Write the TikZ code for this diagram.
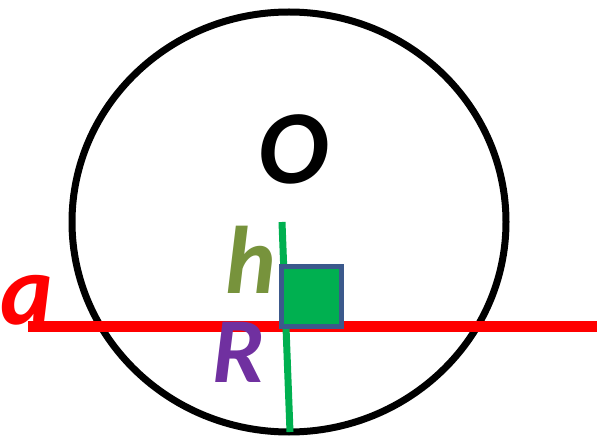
\documentclass[tikz,border=0pt]{standalone}
\usepackage{fontspec}
\setmainfont{Carlito}
\usepackage{tikz}
\usetikzlibrary{positioning}
\definecolor{linered}{RGB}{255,0,0}
\definecolor{hgreen}{RGB}{119,147,60}
\definecolor{rpurple}{RGB}{112,48,160}
\definecolor{perpgreen}{RGB}{0,176,80}
\definecolor{sqblue}{RGB}{59,89,140}

\begin{document}
\begin{tikzpicture}[x=1pt, y=-1pt,
    lbl/.style={inner sep=0pt, font=\bfseries\itshape},
    rightbox/.style={rectangle, draw=sqblue, fill=perpgreen, line width=5pt, minimum size=60pt, inner sep=0pt},
]
\useasboundingbox (0,0) rectangle (597,438);
\coordinate (ctr) at (289,222);
\coordinate (aleft) at (28,326.5);
\coordinate (aright) at (597,326.5);
\coordinate (htop) at (282,222);
\coordinate (hbot) at (290,432);

\draw[line width=7pt] (ctr) ellipse [x radius=217pt, y radius=210pt];
\draw[linered, line width=11pt] (aleft) -- (aright);
\draw[perpgreen, line width=7pt] (htop) -- (hbot);
\node[rightbox] (sq) at (311.8,296.8) {};

\node[lbl, font=\bfseries\itshape\fontsize{105}{105}\selectfont] (O) at (294,149) {O};
\node[lbl, hgreen, font=\bfseries\itshape\fontsize{96}{96}\selectfont] (h) at (250.5,259.5) {h};
\node[lbl, rpurple, font=\bfseries\itshape\fontsize{93}{93}\selectfont] (R) at (239,352) {R};
\node[lbl, linered, font=\bfseries\itshape\fontsize{100}{100}\selectfont] (a) at (26.5,300) {a};
\end{tikzpicture}
\end{document}
